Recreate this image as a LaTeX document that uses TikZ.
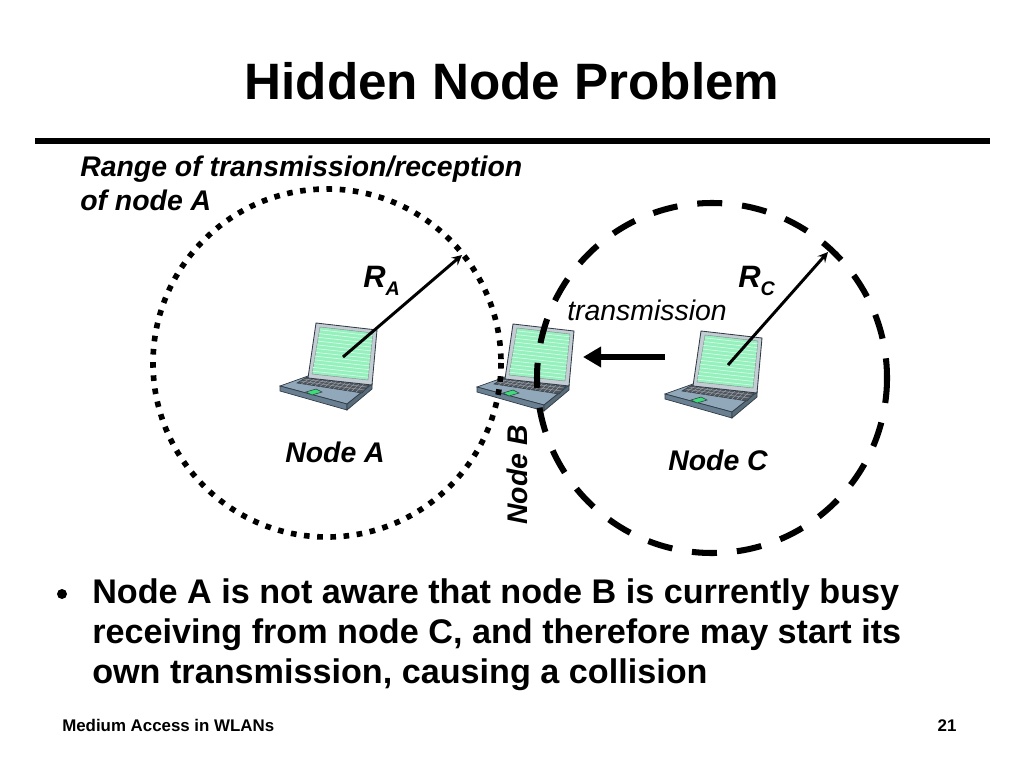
\documentclass[tikz,border=0pt]{standalone}
\usepackage{fontspec}
\setmainfont{Liberation Sans}
\usetikzlibrary{arrows.meta,calc}
\definecolor{laplid}{RGB}{196,204,212}
\definecolor{lapbase}{RGB}{145,168,186}
\definecolor{lapfront}{RGB}{105,128,146}
\definecolor{lapside}{RGB}{88,108,122}
\definecolor{lapkeys}{RGB}{80,86,94}
\definecolor{lapgrid}{RGB}{160,166,172}
\definecolor{lappad}{RGB}{60,220,120}
\definecolor{lapscreen}{RGB}{150,240,190}
\definecolor{lapstripe}{RGB}{215,255,232}
\definecolor{lapedge}{RGB}{50,60,70}
\begin{document}
\begin{tikzpicture}[x=0.025cm,y=-0.025cm,>=stealth,
        lbl/.style={font=\bfseries\itshape\fontsize{20.2}{24}\selectfont,inner sep=0pt},
        bullettext/.style={font=\bfseries\fontsize{24.3}{28}\selectfont,anchor=base west,inner sep=0pt},
        footer/.style={font=\bfseries\fontsize{12}{14}\selectfont,inner sep=0pt,anchor=base},
        radius/.style={font=\bfseries\itshape\fontsize{22}{24}\selectfont,anchor=base west,inner sep=0pt}]
        \useasboundingbox (0,0) rectangle (1024,768);
        % title and rule
        \node[font=\bfseries\fontsize{36.4}{40}\selectfont,anchor=base,inner sep=0pt] (title) at (512,100) {Hidden Node Problem};
        \draw[line width=4.3pt] (35,141) -- (990,141);
        % laptops
        \foreach \dx/\dy/\n in {0/0/A,197/1/B,385/8/C}
            {
                \begin{scope}[shift={(\dx,\dy)}]
                    \filldraw[fill=lapbase,draw=lapedge,line width=0.5pt] (280,386)--(308,376)--(372,384)--(347,404)--cycle;
                    \filldraw[fill=lapfront,draw=lapedge,line width=0.5pt] (280,386)--(347,404)--(347,410)--(280,391)--cycle;
                    \filldraw[fill=lapside,draw=lapedge,line width=0.5pt] (347,404)--(372,384)--(372,389)--(347,410)--cycle;
                    \filldraw[fill=lapkeys,draw=lapedge,line width=0.4pt] (297,383)--(307,377)--(370,384)--(362,393)--cycle;
                    \foreach \t in {0.33,0.66}
                        \draw[lapgrid,line width=0.3pt] ($(297,383)!\t!(307,377)$) -- ($(362,393)!\t!(370,384)$);
                    \foreach \t in {0.07,0.14,...,0.95}
                        \draw[lapgrid,line width=0.3pt] ($(297,383)!\t!(362,393)$) -- ($(307,377)!\t!(370,384)$);
                    \filldraw[fill=lappad,draw=lapedge,line width=0.4pt] (306,392)--(316,389)--(322,392)--(312,395)--cycle;
                    \filldraw[fill=laplid,draw=lapedge,line width=0.6pt] (316,323)--(377,330)--(372,385)--(308,378)--cycle;
                    \filldraw[fill=lapscreen,draw=lapedge!60,line width=0.3pt] (320,327)--(373,333)--(368,380)--(312,374)--cycle;
                    \foreach \t in {0.06,0.14,...,1}
                        \draw[lapstripe,line width=0.45pt] ($(320,327)!\t!(312,374)$) -- ($(373,333)!\t!(368,380)$);
                    \coordinate (scr\n) at (343,357);
                \end{scope}
            }
        % ranges
        \draw[line width=4pt,dash pattern=on 4pt off 5.4pt] (327,363) circle (174);
        \draw[line width=4.3pt,dash pattern=on 17.8pt off 14.2pt] (712,378) circle (175);
        \coordinate (tipA) at (462,255);
        \coordinate (tipC) at (828,252);
        \draw[->,line width=2.1pt] (scrA) -- (tipA);
        \draw[->,line width=2.1pt] (scrC) -- (tipC);
        \coordinate (txC) at (665,357);
        \coordinate (txB) at (583,357);
        \draw[-{Triangle[length=12.8pt,width=14pt]},line width=4.3pt] (txC) -- (txB);
        % labels
        \node[lbl,anchor=base west] (range1) at (80,177) {Range of transmission/reception};
        \node[lbl,anchor=base west] (range2) at (80,210) {of node A};
        \node[radius] (labRA) at (363,287) {R\raisebox{-6pt}{\fontsize{14}{16}\selectfont A}};
        \node[radius] (labRC) at (738,287) {R\raisebox{-6pt}{\fontsize{14}{16}\selectfont C}};
        \node[font=\itshape\fontsize{20.2}{24}\selectfont,anchor=base west,inner sep=0pt] (tx) at (567,320) {transmission};
        \node[lbl] (nodeA) at (335,452) {Node A};
        \node[lbl,rotate=90] (nodeB) at (517,475) {Node B};
        \node[lbl] (nodeC) at (718,460) {Node C};
        % bullet
        \fill (62,594) circle (5);
        \node[bullettext] (bul1) at (92,603) {Node A is not aware that node B is currently busy};
        \node[bullettext] (bul2) at (92,643) {receiving from node C, and therefore may start its};
        \node[bullettext] (bul3) at (92,683) {own transmission, causing a collision};
        % footer
        \node[footer,anchor=base west] (foot) at (62,731) {Medium Access in WLANs};
        \node[footer] (page) at (947,731) {21};
\end{tikzpicture}
\end{document}
